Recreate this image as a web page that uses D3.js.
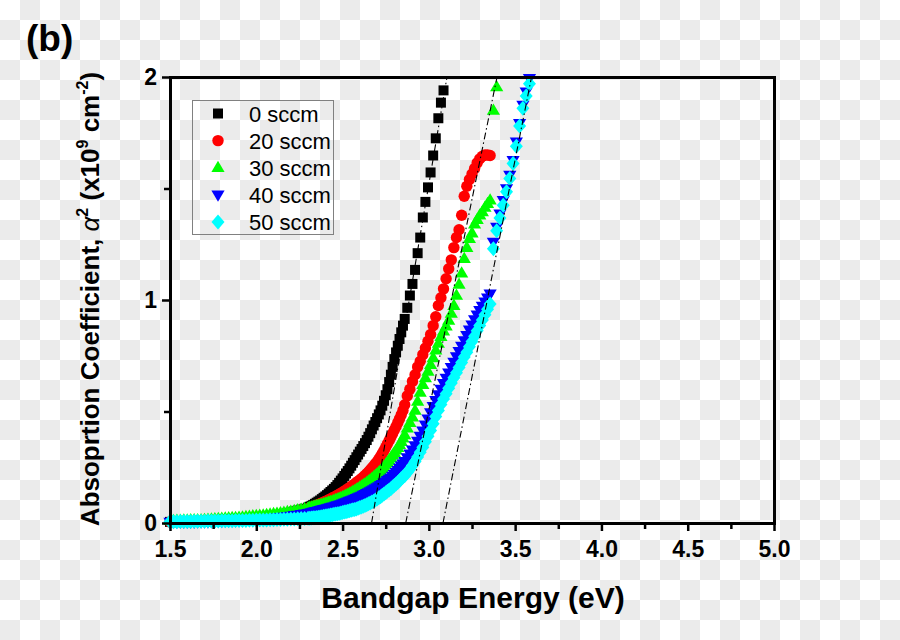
<!DOCTYPE html>
<html><head><meta charset="utf-8">
<script src="https://cdn.jsdelivr.net/npm/d3@7"></script>
<style>html,body{margin:0;padding:0;background:#fff}svg{display:block}</style>
</head><body>
<svg id="chart" width="900" height="640"></svg>
<script>
// ---------------- data ----------------
const energy = [
 1.50,1.52,1.54,1.56,1.58,1.60,1.62,1.64,1.66,1.68,1.70,1.72,1.74,1.76,1.78,1.80,1.82,1.84,1.86,1.88,1.90,1.92,1.94,1.96,1.98,2.00,2.02,2.04,2.06,2.08,2.10,2.12,2.14,2.16,2.18,2.20,2.22,2.24,2.26,2.28,2.30,
 2.31,2.32,2.33,2.34,2.35,2.36,2.37,2.38,2.39,2.40,2.41,2.42,2.43,2.44,2.45,2.46,2.47,2.48,2.49,2.50,2.51,2.52,2.53,2.54,2.55,2.56,2.57,2.58,2.59,2.60,
 2.61,2.62,2.63,2.64,2.65,2.66,2.67,2.68,2.69,2.70,2.71,2.72,2.73,2.74,2.75,2.76,2.77,2.78,2.79,2.80,2.81,2.82,2.83,2.84,2.85,
 2.86,2.875,2.89,2.905,2.92,2.935,2.95,2.965,2.98,2.995,3.01,3.025,3.04,3.055,3.07,3.085,3.10,3.115,3.13,3.145,3.16,3.175,3.19,3.205,3.22,3.235,3.25,3.265,3.28,3.295,3.31,3.325,3.34,3.355,
 3.374,3.393,3.412,3.431,3.45,3.469,3.488,3.507,3.526,3.545,3.564,3.583];

const alpha0 = [
 0.005,0.005,0.005,0.006,0.006,0.006,0.006,0.007,0.007,0.008,0.008,0.009,0.009,0.010,0.010,0.011,0.011,0.012,0.013,0.014,0.015,0.016,0.017,0.018,0.019,0.021,0.022,0.024,0.026,0.028,0.031,0.034,0.037,0.040,0.044,0.048,0.052,0.056,0.060,0.064,0.069,
 0.073,0.077,0.081,0.086,0.091,0.096,0.101,0.107,0.113,0.119,0.125,0.132,0.139,0.146,0.153,0.161,0.170,0.180,0.190,0.200,0.211,0.222,0.233,0.245,0.257,0.270,0.282,0.295,0.307,0.320,
 0.332,0.345,0.358,0.372,0.387,0.403,0.420,0.437,0.453,0.470,0.487,0.505,0.526,0.548,0.573,0.600,0.632,0.665,0.700,0.735,0.765,0.795,0.825,0.855,0.885,
 0.915,0.965,1.020,1.072,1.135,1.210,1.280,1.370,1.440,1.505,1.572,1.648,1.725,1.815,1.885,1.940];

const alpha20 = [
 0.005,0.005,0.005,0.006,0.006,0.006,0.006,0.007,0.007,0.008,0.008,0.009,0.009,0.010,0.010,0.011,0.011,0.012,0.013,0.014,0.015,0.016,0.017,0.018,0.019,0.021,0.022,0.024,0.025,0.027,0.029,0.031,0.034,0.037,0.040,0.043,0.047,0.051,0.055,0.059,0.064,
 0.068,0.071,0.074,0.077,0.080,0.083,0.086,0.090,0.093,0.097,0.100,0.104,0.108,0.112,0.116,0.120,0.124,0.129,0.133,0.138,0.143,0.148,0.153,0.158,0.163,0.169,0.175,0.181,0.187,0.193,
 0.199,0.206,0.213,0.221,0.229,0.237,0.246,0.255,0.265,0.275,0.286,0.298,0.311,0.325,0.340,0.355,0.370,0.385,0.401,0.417,0.433,0.450,0.467,0.485,0.505,
 0.530,0.570,0.600,0.635,0.665,0.700,0.725,0.755,0.785,0.815,0.845,0.885,0.925,0.975,1.010,1.050,1.095,1.140,1.180,1.235,1.280,1.315,1.380,1.465,1.510,1.540,1.565,1.590,1.615,1.633,1.645,1.650,1.650,1.648];

const alpha30 = [
 0.010,0.010,0.011,0.011,0.012,0.012,0.013,0.013,0.014,0.014,0.015,0.016,0.017,0.018,0.019,0.020,0.021,0.022,0.023,0.024,0.025,0.026,0.028,0.029,0.031,0.032,0.034,0.035,0.037,0.039,0.041,0.043,0.045,0.047,0.050,0.052,0.055,0.058,0.061,0.064,0.067,
 0.069,0.071,0.073,0.075,0.077,0.079,0.081,0.083,0.085,0.088,0.090,0.093,0.095,0.098,0.101,0.104,0.107,0.110,0.113,0.117,0.120,0.124,0.128,0.132,0.136,0.141,0.145,0.150,0.155,0.160,
 0.165,0.170,0.175,0.181,0.187,0.193,0.199,0.206,0.213,0.220,0.227,0.235,0.243,0.252,0.262,0.272,0.282,0.293,0.304,0.315,0.326,0.338,0.351,0.365,0.380,
 0.395,0.425,0.450,0.475,0.505,0.545,0.585,0.620,0.650,0.680,0.710,0.740,0.775,0.805,0.835,0.860,0.883,0.908,0.940,0.975,1.020,1.070,1.120,1.185,1.235,1.275,1.300,1.340,1.360,1.380,1.395,1.415,1.432,1.447,
 1.850,1.955];

const alpha40 = [
 0.004,0.004,0.004,0.004,0.005,0.005,0.005,0.005,0.006,0.006,0.006,0.006,0.007,0.007,0.008,0.008,0.009,0.009,0.010,0.010,0.011,0.011,0.012,0.013,0.014,0.015,0.016,0.017,0.018,0.019,0.021,0.023,0.025,0.027,0.029,0.031,0.034,0.036,0.039,0.041,0.044,
 0.045,0.047,0.049,0.051,0.053,0.055,0.057,0.059,0.061,0.063,0.065,0.067,0.069,0.071,0.073,0.076,0.078,0.081,0.083,0.086,0.089,0.092,0.095,0.098,0.101,0.104,0.107,0.111,0.114,0.118,
 0.121,0.125,0.129,0.133,0.137,0.141,0.145,0.150,0.154,0.159,0.164,0.169,0.174,0.180,0.185,0.191,0.197,0.203,0.210,0.218,0.227,0.236,0.246,0.256,0.266,
 0.277,0.293,0.310,0.328,0.347,0.368,0.390,0.414,0.440,0.467,0.495,0.523,0.550,0.576,0.601,0.626,0.650,0.674,0.698,0.722,0.746,0.770,0.794,0.818,0.842,0.866,0.889,0.912,0.934,0.954,0.973,0.992,1.010,1.028,
 1.260,1.327,1.387,1.447,1.500,1.560,1.627,1.709,1.792,1.874,1.934,1.994];

const alpha50 = [
 0.006,0.006,0.006,0.007,0.007,0.007,0.007,0.008,0.008,0.008,0.008,0.009,0.009,0.009,0.009,0.010,0.010,0.010,0.010,0.011,0.011,0.011,0.011,0.012,0.012,0.013,0.013,0.014,0.014,0.015,0.015,0.016,0.016,0.017,0.017,0.018,0.018,0.019,0.020,0.020,0.021,
 0.021,0.022,0.023,0.024,0.025,0.026,0.027,0.028,0.030,0.031,0.033,0.034,0.036,0.037,0.039,0.040,0.042,0.043,0.045,0.047,0.049,0.051,0.053,0.055,0.057,0.059,0.061,0.063,0.066,0.069,
 0.072,0.075,0.078,0.082,0.086,0.090,0.094,0.098,0.103,0.108,0.113,0.118,0.124,0.130,0.136,0.142,0.148,0.154,0.161,0.168,0.175,0.182,0.190,0.198,0.206,
 0.212,0.226,0.241,0.258,0.276,0.296,0.317,0.340,0.364,0.389,0.415,0.445,0.478,0.505,0.531,0.556,0.580,0.604,0.628,0.651,0.674,0.697,0.720,0.744,0.766,0.790,0.814,0.838,0.862,0.886,0.910,0.934,0.958,0.982,
 1.230,1.310,1.368,1.425,1.485,1.545,1.612,1.690,1.780,1.860,1.915,1.970];

const seriesLabels = ["0 sccm","20 sccm","30 sccm","40 sccm","50 sccm"];
const xTicks = [1.5,2.0,2.5,3.0,3.5,4.0,4.5,5.0];
const xMinorTicks = [1.75,2.25,2.75,3.25,3.75,4.25,4.75];
const yTicks = [0,1,2];
const yMinorTicks = [0.5,1.5];
// tangent (extrapolation) lines: start/end energies and alpha^2 values
const fitStartE = [2.668,2.866,3.082];
const fitEndE   = [3.105,3.395,3.595];
const fitStartA = [0,0,0];
const fitEndA   = [2,2,2];

// ---------------- styles ----------------
const colors = ["#000000","#ff0000","#00ff00","#0000ff","#00ffff"];
const FONT = "Arial, 'Liberation Sans', sans-serif";

const symSquare = {draw(c){c.moveTo(-5,-5);c.lineTo(5,-5);c.lineTo(5,5);c.lineTo(-5,5);c.closePath();}};
const symCircle = {draw(c){c.moveTo(5.7,0);c.arc(0,0,5.7,0,2*Math.PI);c.closePath();}};
const symTriUp = {draw(c){c.moveTo(0,-7);c.lineTo(6.6,4.3);c.lineTo(-6.6,4.3);c.closePath();}};
const symTriDown = {draw(c){c.moveTo(0,7);c.lineTo(6.6,-4.3);c.lineTo(-6.6,-4.3);c.closePath();}};
const symDiamond = {draw(c){c.moveTo(0,-7.5);c.lineTo(6.5,0);c.lineTo(0,7.5);c.lineTo(-6.5,0);c.closePath();}};
const symbols = [symSquare,symCircle,symTriUp,symTriDown,symDiamond];

// ---------------- chart ----------------
const svg = d3.select("#chart");
const W = 900, H = 640;
const x = d3.scaleLinear().domain([1.5,5]).range([170,774]);
const y = d3.scaleLinear().domain([0,2]).range([523,77]);

const defs = svg.append("defs");
const pat = defs.append("pattern").attr("id","chk").attr("width",40).attr("height",40).attr("patternUnits","userSpaceOnUse");
pat.append("rect").attr("width",40).attr("height",40).attr("fill","#ffffff");
pat.append("rect").attr("x",20).attr("y",0).attr("width",20).attr("height",20).attr("fill","#ebebeb");
pat.append("rect").attr("x",0).attr("y",20).attr("width",20).attr("height",20).attr("fill","#ebebeb");
svg.append("rect").attr("width",W).attr("height",H).attr("fill","url(#chk)");

const allSeries = [alpha0,alpha20,alpha30,alpha40,alpha50];
allSeries.forEach((arr,si)=>{
  const pts = arr.map((a,i)=>[energy[i],a]);
  const path = d3.symbol().type(symbols[si])();
  svg.append("g").selectAll("path").data(pts).join("path")
    .attr("d",path)
    .attr("transform",d=>`translate(${x(d[0])},${y(d[1])})`)
    .attr("fill",colors[si]);
});

// dash-dot tangent lines
svg.append("g").selectAll("line").data(d3.range(fitStartE.length)).join("line")
  .attr("x1",i=>x(fitStartE[i])).attr("y1",i=>y(fitStartA[i]))
  .attr("x2",i=>x(fitEndE[i])).attr("y2",i=>y(fitEndA[i]))
  .attr("stroke","#000").attr("stroke-width",1.1)
  .attr("stroke-dasharray","7,3,1.5,3");

// axes
function styleAxis(g){
  g.attr("font-family",FONT).attr("font-size",23).attr("font-weight","bold");
  g.selectAll(".domain").attr("stroke","#000").attr("stroke-width",3).attr("stroke-linecap","square");
  g.selectAll(".tick line").attr("stroke","#000").attr("stroke-width",2.5);
  g.selectAll(".tick text").attr("fill","#000");
}
svg.append("g").attr("transform","translate(0,523)")
  .call(d3.axisBottom(x).tickValues(xMinorTicks).tickSize(6).tickSizeOuter(0).tickFormat(""))
  .call(styleAxis);
svg.append("g").attr("transform","translate(0,523)")
  .call(d3.axisBottom(x).tickValues(xTicks).tickSize(8).tickSizeOuter(0).tickPadding(10).tickFormat(d3.format(".1f")))
  .call(styleAxis);
svg.append("g").attr("transform","translate(170,0)")
  .call(d3.axisLeft(y).tickValues(yMinorTicks).tickSize(6).tickSizeOuter(0).tickFormat(""))
  .call(styleAxis);
svg.append("g").attr("transform","translate(170,0)")
  .call(d3.axisLeft(y).tickValues(yTicks).tickSize(8).tickSizeOuter(0).tickPadding(5).tickFormat(d3.format("d")))
  .call(styleAxis);
svg.append("g").attr("transform","translate(0,77)")
  .call(d3.axisTop(x).tickValues([]).tickSizeOuter(0))
  .call(styleAxis);
svg.append("g").attr("transform","translate(774,0)")
  .call(d3.axisRight(y).tickValues([]).tickSizeOuter(0))
  .call(styleAxis);

// titles
svg.append("text").attr("x",473).attr("y",608).attr("text-anchor","middle")
  .attr("font-family",FONT).attr("font-size",30).attr("font-weight","bold")
  .text("Bandgap Energy (eV)");

const yt = svg.append("text").attr("transform","translate(99,299) rotate(-90)")
  .attr("text-anchor","middle").attr("font-family",FONT).attr("font-size",26).attr("font-weight","bold");
yt.append("tspan").text("Absoprtion Coefficient, ");
yt.append("tspan").attr("font-style","italic").attr("font-weight","normal").text("α");
yt.append("tspan").attr("font-size",16).attr("dy",-11).text("2");
yt.append("tspan").attr("dy",11).text(" (x10");
yt.append("tspan").attr("font-size",16).attr("dy",-11).text("9");
yt.append("tspan").attr("dy",11).text(" cm");
yt.append("tspan").attr("font-size",16).attr("dy",-11).text("-2");
yt.append("tspan").attr("dy",11).text(")");

svg.append("text").attr("x",26).attr("y",51)
  .attr("font-family",FONT).attr("font-size",37).attr("font-weight","bold").text("(b)");

// legend
const lg = svg.append("g");
lg.append("rect").attr("x",192.5).attr("y",100.5).attr("width",141).attr("height",134)
  .attr("fill","none").attr("stroke","#808080").attr("stroke-width",1);
seriesLabels.forEach((lab,i)=>{
  const cy = 113.5 + i*27.1;
  lg.append("path").attr("d",d3.symbol().type(symbols[i])()).attr("transform",`translate(218,${cy})`).attr("fill",colors[i]);
  lg.append("text").attr("x",249).attr("y",cy+8).attr("font-family",FONT).attr("font-size",22).attr("fill","#000").text(lab);
});
</script>
</body></html>
